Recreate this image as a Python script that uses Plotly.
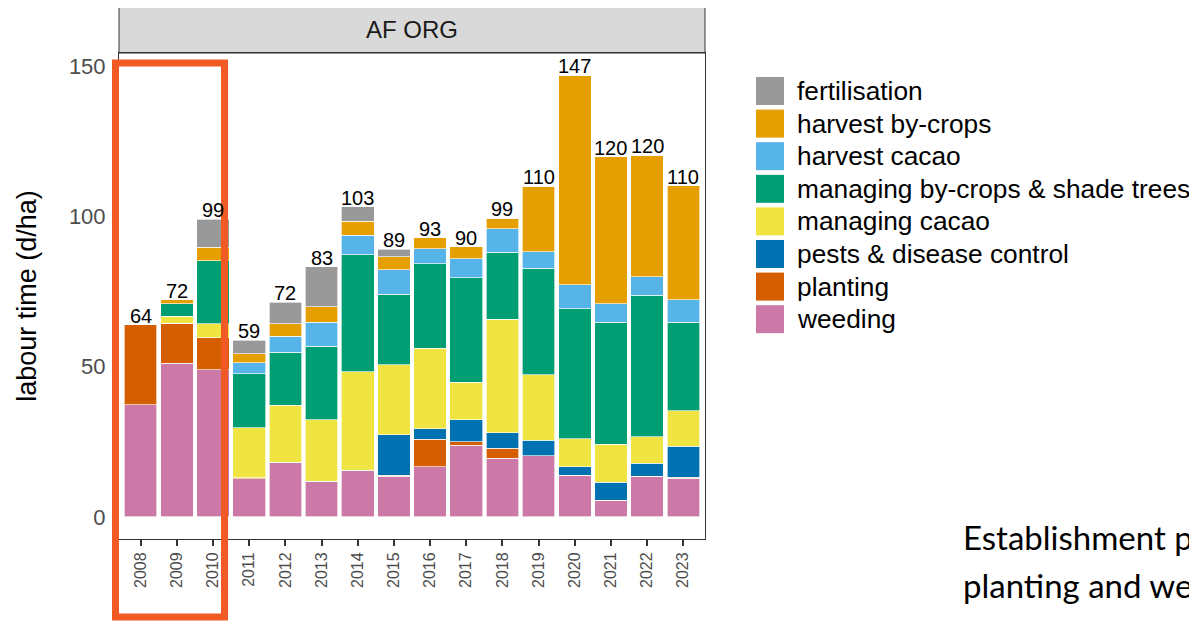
import plotly.graph_objects as go

years = [str(y) for y in range(2008, 2024)]

# labour time per activity (d/ha), stacked bottom -> top
weeding = [37.3, 51.1, 49.0, 12.7, 18.2, 11.8, 15.3, 13.5, 16.7, 23.9, 19.6, 20.3, 13.8, 5.5, 13.5, 12.8]
planting = [26.7, 13.3, 10.6, 0.4, 0, 0, 0, 0.3, 9.2, 1.1, 3.2, 0, 0, 0, 0, 0.4]
pests = [0, 0, 0, 0, 0, 0, 0.3, 13.6, 3.4, 7.3, 5.2, 5.2, 2.9, 6.1, 4.3, 10.3]
managing_cacao = [0, 2.4, 4.7, 16.5, 18.9, 20.5, 32.7, 23.3, 26.8, 12.5, 37.7, 21.8, 9.3, 12.6, 8.9, 11.9]
managing_bycrops = [0, 4.1, 21.0, 18.1, 17.7, 24.5, 39.0, 23.4, 28.2, 34.8, 22.4, 35.4, 43.3, 40.5, 47.0, 29.3]
harvest_cacao = [0, 0, 0, 3.6, 5.3, 8.0, 6.4, 8.1, 4.9, 6.3, 7.7, 5.6, 8.0, 6.3, 6.2, 7.6]
harvest_bycrops = [0, 1.4, 4.4, 3.0, 4.1, 5.2, 4.6, 4.3, 3.7, 4.0, 3.6, 21.8, 69.7, 48.9, 40.4, 37.9]
fertilisation = [0, 0, 9.3, 4.4, 7.3, 13.3, 4.9, 2.5, 0, 0, 0, 0, 0, 0, 0, 0]
totals = [64, 72, 99, 59, 72, 83, 103, 89, 93, 90, 99, 110, 147, 120, 120, 110]

series = [
    ("weeding", weeding, "#CC79A7"),
    ("planting", planting, "#D55E00"),
    ("pests & disease control", pests, "#0072B2"),
    ("managing cacao", managing_cacao, "#F0E442"),
    ("managing by-crops & shade trees", managing_bycrops, "#009E73"),
    ("harvest cacao", harvest_cacao, "#56B4E9"),
    ("harvest by-crops", harvest_bycrops, "#E69F00"),
    ("fertilisation", fertilisation, "#999999"),
]

# page offset from the default body margin
OFF = 8
W, H = 1197 - OFF, 621 - OFF
# plot area in page pixels
L, R, T, B = 119, 705, 53, 539


def px_x(px):
    return (px - L) / (R - L)


def px_y(py):
    return (B - py) / (B - T)


fig = go.Figure()

for name, vals, col in series:
    fig.add_trace(go.Bar(
        x=years, y=vals, name=name, width=0.9,
        marker=dict(color=col, line=dict(color="rgba(255,255,255,0.8)", width=0.8)),
        showlegend=False
    ))

stack_top = [sum(s[1][i] for s in series) for i in range(len(years))]

shapes = []
annotations = []

# total labels on top of the bars (category axis -> serial index)
for i, (top, tot) in enumerate(zip(stack_top, totals)):
    annotations.append(dict(x=i, y=top, xref="x", yref="y", text=str(tot), showarrow=False,
                            yanchor="bottom", yshift=-4,
                            font=dict(size=20, color="black", family="Liberation Sans, Arial")))

# facet strip
shapes.append(dict(type="rect", xref="paper", yref="paper", x0=0, x1=1,
                   y0=1, y1=px_y(6), fillcolor="#D9D9D9",
                   line=dict(color="#333333", width=1), layer="below"))
annotations.append(dict(xref="paper", yref="paper", x=0.5, y=px_y(29.5),
                        text="AF ORG", showarrow=False, yanchor="middle",
                        font=dict(size=24, color="#1A1A1A", family="Liberation Sans, Arial")))

# legend (top to bottom)
for i, (name, vals, col) in enumerate(reversed(series)):
    top = 77 + i * 32.6
    shapes.append(dict(type="rect", xref="paper", yref="paper",
                       x0=px_x(756), x1=px_x(784), y0=px_y(top + 28), y1=px_y(top),
                       fillcolor=col, line=dict(width=0)))
    annotations.append(dict(xref="paper", yref="paper", x=px_x(795), y=px_y(top + 14),
                            text=name, showarrow=False, xanchor="left", yanchor="middle",
                            font=dict(size=26.3, color="black", family="Liberation Sans, Arial")))

# highlight box around establishment years
shapes.append(dict(type="rect", xref="paper", yref="paper",
                   x0=px_x(115.5), x1=px_x(224.5), y0=px_y(617), y1=px_y(63),
                   line=dict(color="#F15A24", width=7), fillcolor="rgba(0,0,0,0)"))

annotations.append(dict(xref="paper", yref="paper", x=px_x(961), y=px_y(552),
                        text="Establishment phase:", showarrow=False,
                        xanchor="left", yanchor="bottom", yshift=-7,
                        font=dict(size=33, color="black", family="Lato")))
annotations.append(dict(xref="paper", yref="paper", x=px_x(961), y=px_y(600),
                        text="planting and weeding", showarrow=False,
                        xanchor="left", yanchor="bottom", yshift=-7,
                        font=dict(size=33, color="black", family="Lato")))

fig.update_layout(
    barmode="stack",
    width=W, height=H,
    margin=dict(l=L - OFF, r=W - (R - OFF), t=T - OFF, b=H - (B - OFF)),
    plot_bgcolor="white",
    paper_bgcolor="white",
    shapes=shapes,
    annotations=annotations,
    showlegend=False,
    font=dict(family="Liberation Sans, Arial"),
)

fig.update_xaxes(
    type="category", range=[-0.6, 15.6],
    showgrid=False, showline=True, mirror=True, linecolor="#333333", linewidth=1,
    ticks="outside", ticklen=6, tickcolor="#333333", tickwidth=1.5,
    tickangle=-90, tickfont=dict(size=16, color="#4D4D4D"),
)
fig.update_yaxes(
    range=[-7.35, 154.35], tickvals=[0, 50, 100, 150],
    showgrid=False, zeroline=False, showline=True, mirror=True,
    linecolor="#333333", linewidth=1,
    ticks="outside", ticklen=4, tickcolor="#333333", ticklabelstandoff=4,
    tickfont=dict(size=22, color="#4D4D4D"),
    title=dict(text="labour time (d/ha)", font=dict(size=27, color="black"), standoff=24),
)

fig.write_html("out.html")
